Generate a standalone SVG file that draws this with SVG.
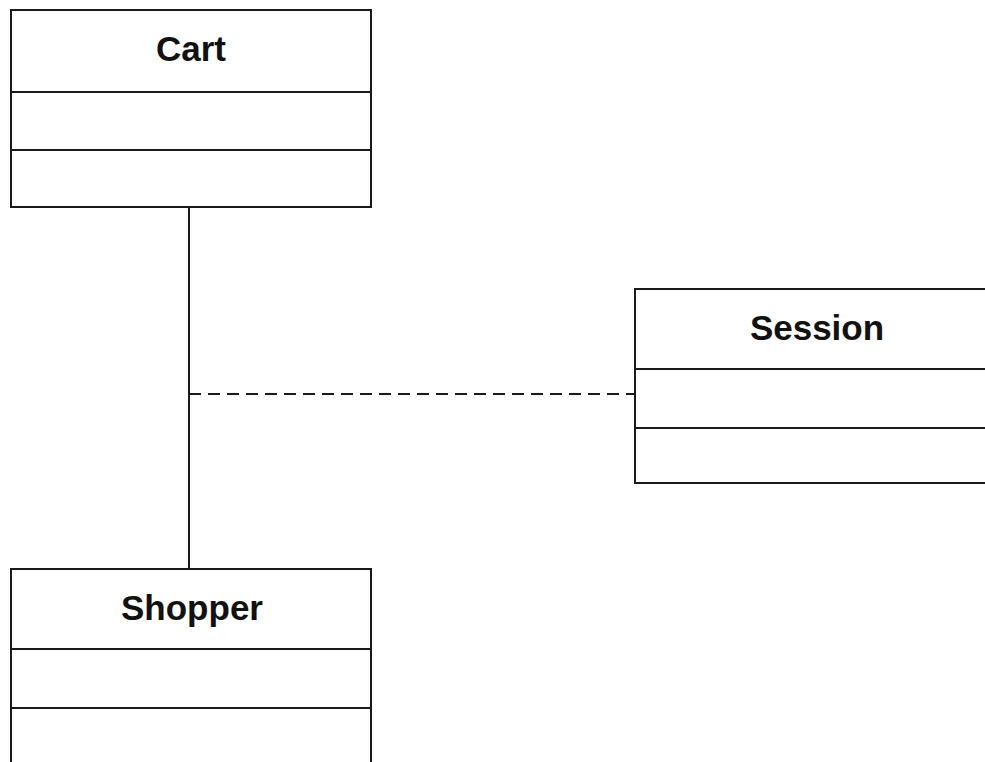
<svg xmlns="http://www.w3.org/2000/svg" width="985" height="762" viewBox="0 0 985 762">
<style>
.box{fill:#fff;stroke:#1a1a1a;stroke-width:2}
.div{stroke:#1a1a1a;stroke-width:2}
.title{font-family:"Liberation Sans",Arial,sans-serif;font-weight:bold;font-size:35px;fill:#111;text-anchor:middle}
.conn{stroke:#1a1a1a;stroke-width:2;fill:none}
</style>
<rect width="985" height="762" fill="#fff"/>
<g id="connectors">
<line class="conn" x1="189" y1="207" x2="189" y2="569"/>
<line class="conn" x1="189" y1="394" x2="635" y2="394" stroke-dasharray="12 7"/>
</g>
<g id="cart">
<rect class="box" x="11" y="10" width="360" height="197"/>
<line class="div" x1="11" y1="92" x2="371" y2="92"/>
<line class="div" x1="11" y1="150" x2="371" y2="150"/>
<text class="title" x="191" y="61">Cart</text>
</g>
<g id="session">
<rect class="box" x="635" y="289" width="360" height="194"/>
<line class="div" x1="635" y1="369" x2="995" y2="369"/>
<line class="div" x1="635" y1="428" x2="995" y2="428"/>
<text class="title" x="817" y="340">Session</text>
</g>
<g id="shopper">
<rect class="box" x="11" y="569" width="360" height="200"/>
<line class="div" x1="11" y1="649" x2="371" y2="649"/>
<line class="div" x1="11" y1="708" x2="371" y2="708"/>
<text class="title" x="192" y="620">Shopper</text>
</g>
</svg>
